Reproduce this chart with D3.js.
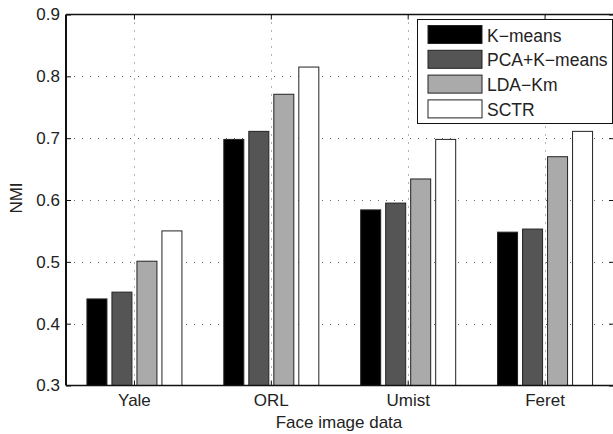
<!DOCTYPE html>
<html>
<head>
<meta charset="utf-8">
<script src="https://cdn.jsdelivr.net/npm/d3@7"></script>
<style>
body { margin: 0; background: #fff; }
text { font-family: "Liberation Sans", Arial, sans-serif; fill: #222; }
</style>
</head>
<body>
<div id="chart"></div>
<script>
var categories = ['Yale', 'ORL', 'Umist', 'Feret'];
var seriesNames = ['K\u2212means', 'PCA+K\u2212means', 'LDA\u2212Km', 'SCTR'];
var seriesColors = ['#000000', '#555555', '#aaaaaa', '#ffffff'];
var kmeans = [0.440, 0.698, 0.584, 0.548];
var pcaKmeans = [0.451, 0.711, 0.595, 0.553];
var ldaKm = [0.501, 0.771, 0.634, 0.670];
var sctr = [0.550, 0.815, 0.698, 0.711];
var yTicks = [0.3, 0.4, 0.5, 0.6, 0.7, 0.8, 0.9];

var series = [kmeans, pcaKmeans, ldaKm, sctr];

var W = 613, H = 434;
var mLeft = 66, mRight = 613.5, mTop = 14.5, mBottom = 385.5;
var fs = 17;

var svg = d3.select('#chart').append('svg')
    .attr('width', W)
    .attr('height', H);

var x = d3.scaleBand()
    .domain(categories)
    .range([mLeft, mRight])
    .padding(0);

var y = d3.scaleLinear()
    .domain([0.3, 0.9])
    .range([mBottom, mTop]);

var inner = d3.scaleBand()
    .domain(d3.range(series.length))
    .range([-47.5, 47.5])
    .paddingInner(0.2)
    .paddingOuter(0);

function cx(c){ return x(c) + x.bandwidth() / 2; }

// grid
var grid = svg.append('g')
    .attr('stroke', '#666')
    .attr('stroke-width', 1)
    .attr('stroke-dasharray', '1,7');

grid.selectAll('line.h')
    .data(yTicks.slice(1, -1))
    .enter().append('line')
    .attr('x1', mLeft).attr('x2', mRight)
    .attr('y1', function(d){ return Math.round(y(d)) + 0.5; })
    .attr('y2', function(d){ return Math.round(y(d)) + 0.5; });

grid.selectAll('line.v')
    .data(categories)
    .enter().append('line')
    .attr('x1', function(d){ return Math.round(cx(d)) + 0.5; })
    .attr('x2', function(d){ return Math.round(cx(d)) + 0.5; })
    .attr('y1', mTop).attr('y2', mBottom);

// bars
var groups = svg.append('g').selectAll('g')
    .data(series)
    .enter().append('g')
    .attr('fill', function(d, i){ return seriesColors[i]; });

groups.selectAll('rect')
    .data(function(d, i){ return d.map(function(v, j){ return {v: v, c: categories[j], s: i}; }); })
    .enter().append('rect')
    .attr('x', function(d){ return cx(d.c) + inner(d.s); })
    .attr('width', inner.bandwidth())
    .attr('y', function(d){ return y(d.v); })
    .attr('height', function(d){ return y(0.3) - y(d.v); })
    .attr('stroke', '#222')
    .attr('stroke-width', 1);

// axes frame
var frame = svg.append('g').attr('stroke', '#111').attr('fill', 'none');
frame.append('line').attr('x1', mLeft).attr('x2', mRight).attr('y1', mTop).attr('y2', mTop).attr('stroke-width', 1.5);
frame.append('line').attr('x1', mLeft).attr('x2', mRight).attr('y1', mBottom).attr('y2', mBottom).attr('stroke-width', 1.5);
frame.append('line').attr('x1', mLeft).attr('x2', mLeft).attr('y1', mTop).attr('y2', mBottom).attr('stroke-width', 2);

// y axis
var yAxis = svg.append('g')
    .attr('transform', 'translate(' + mLeft + ',0)')
    .call(d3.axisLeft(y).tickValues(yTicks).tickFormat(d3.format('.1f')).tickSizeInner(-5).tickSizeOuter(0).tickPadding(6));
yAxis.select('.domain').remove();
yAxis.selectAll('line').attr('stroke', '#111');
yAxis.selectAll('text').attr('font-size', fs).attr('fill', '#222');

var yAxisR = svg.append('g')
    .attr('transform', 'translate(' + (mRight + 0.5) + ',0)')
    .call(d3.axisRight(y).tickValues(yTicks).tickSizeInner(-5).tickSizeOuter(0).tickFormat(''));
yAxisR.select('.domain').remove();
yAxisR.selectAll('line').attr('stroke', '#111');

// x axis
var xAxis = svg.append('g')
    .attr('transform', 'translate(0,' + mBottom + ')')
    .call(d3.axisBottom(x).tickSizeInner(-5).tickSizeOuter(0).tickPadding(8));
xAxis.select('.domain').remove();
xAxis.selectAll('line').attr('stroke', '#111');
xAxis.selectAll('text').attr('font-size', fs).attr('fill', '#222');

var xAxisT = svg.append('g')
    .attr('transform', 'translate(0,' + mTop + ')')
    .call(d3.axisTop(x).tickSizeInner(-5).tickSizeOuter(0).tickFormat(''));
xAxisT.select('.domain').remove();
xAxisT.selectAll('line').attr('stroke', '#111');

// axis labels
svg.append('text')
    .attr('x', 339)
    .attr('y', 428)
    .attr('text-anchor', 'middle')
    .attr('font-size', fs)
    .text('Face image data');

svg.append('text')
    .attr('transform', 'translate(22,198) rotate(-90)')
    .attr('text-anchor', 'middle')
    .attr('font-size', fs)
    .text('NMI');

// legend
var lg = svg.append('g').attr('transform', 'translate(417,19)');
lg.append('rect')
    .attr('x', 0.5).attr('y', 0.5)
    .attr('width', 195).attr('height', 104)
    .attr('fill', '#fff').attr('stroke', '#111').attr('stroke-width', 1);

var items = lg.selectAll('g.item')
    .data(seriesNames)
    .enter().append('g')
    .attr('transform', function(d, i){ return 'translate(0,' + (6 + i * 24.8) + ')'; });

items.append('rect')
    .attr('x', 11).attr('y', 0.5)
    .attr('width', 54).attr('height', 18)
    .attr('fill', function(d, i){ return seriesColors[i]; })
    .attr('stroke', '#222');

items.append('text')
    .attr('x', 70).attr('y', 16.5)
    .attr('font-size', 17.5)
    .text(function(d){ return d; });
</script>
</body>
</html>
